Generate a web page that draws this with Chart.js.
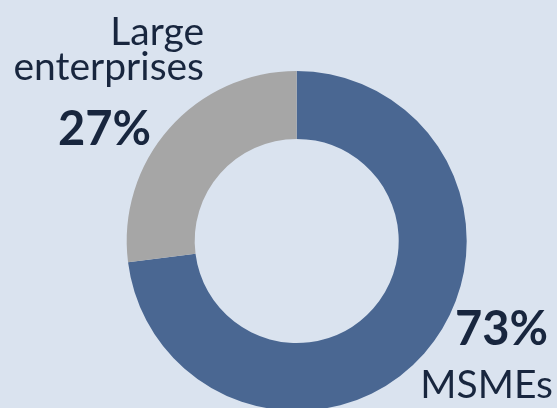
<!DOCTYPE html>
<html>
<head>
<meta charset="utf-8">
<script src="https://cdn.jsdelivr.net/npm/chart.js@4"></script>
<style>
  html, body { margin: 0; padding: 0; background: #dae3ef; overflow: hidden; }
  #wrap { position: relative; width: 557px; height: 450px; }
</style>
</head>
<body>
<div id="wrap"><canvas id="grafico" width="557" height="450"></canvas></div>
<script>
// dados do gráfico
const categorias = ['MSMEs', 'Large enterprises'];
const valores = [73, 27];
const cores = ['#4a6792', '#a6a6a6'];
const rotulos = ['73%', '27%'];

// rótulos desenhados em texto sobre o canvas
const rotulosPlugin = {
  id: 'rotulos',
  afterDraw(chart) {
    const ctx = chart.ctx;
    ctx.save();
    ctx.fillStyle = '#18263e';
    ctx.textBaseline = 'alphabetic';

    // Large enterprises
    ctx.textAlign = 'right';
    ctx.font = '39px Lato';
    ctx.fillText('Large', 204, 45);
    ctx.fillText('enterprises', 204, 80);
    ctx.font = 'bold 47px Lato';
    ctx.textAlign = 'left';
    ctx.fillText(rotulos[1], 58, 145);

    // MSMEs
    ctx.textAlign = 'right';
    ctx.fillText(rotulos[0], 548, 345);
    ctx.font = '39px Lato';
    ctx.fillText(categorias[0], 553, 398);
    ctx.restore();
  }
};

new Chart(document.getElementById('grafico'), {
  type: 'doughnut',
  data: {
    labels: categorias,
    datasets: [{
      data: valores,
      backgroundColor: cores,
      borderWidth: 0
    }]
  },
  options: {
    responsive: false,
    animation: false,
    cutout: '60%',
    layout: { padding: { left: 126.7, right: 90.3, top: 71, bottom: 39 } },
    plugins: {
      legend: { display: false },
      tooltip: { enabled: false }
    }
  },
  plugins: [rotulosPlugin]
});
</script>
</body>
</html>
